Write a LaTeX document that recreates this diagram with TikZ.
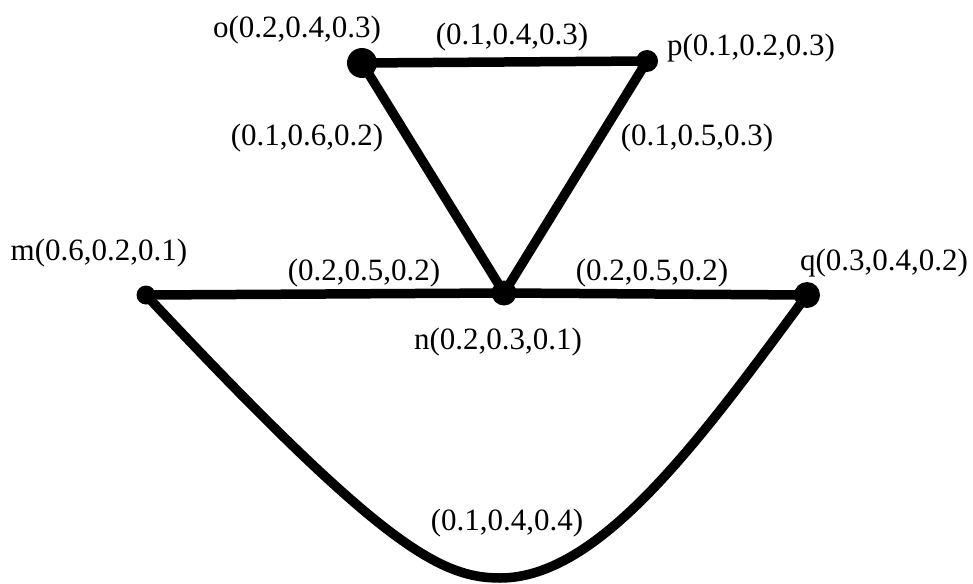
\documentclass[tikz,border=0pt]{standalone}
\usepackage{fontspec}
\setmainfont{Liberation Serif}
\begin{document}
\begin{tikzpicture}[x=1pt,y=-1pt,
  vtx/.style={circle,fill=black,inner sep=0pt,minimum size=#1},
  lbl/.style={inner sep=0pt,font=\fontsize{31}{34}\selectfont},
  edge/.style={line width=9.5pt,line cap=round,line join=round}]
\useasboundingbox (0,0) rectangle (973,583);
% vertices
\node[vtx=30pt] (o) at (362,63) {};
\node[vtx=22pt] (p) at (647,61) {};
\node[vtx=19pt] (m) at (146,295) {};
\node[vtx=25pt] (n) at (504,293) {};
\node[vtx=26pt] (q) at (807,295) {};
% edges
\draw[edge] (o.center) -- (p.center);
\draw[edge] (o.center) -- (n.center);
\draw[edge] (p.center) -- (n.center);
\draw[edge] (m.center) -- (n.center);
\draw[edge] (n.center) -- (q.center);
\coordinate (b) at (500,578);
\draw[edge] (m.center) .. controls (380,545) and (440,578) .. (b)
            .. controls (600,578) and (700,440) .. (q.center);
% vertex labels
\node[lbl] (lo) at (297,30) {o(0.2,0.4,0.3)};
\node[lbl] (lp) at (751,48) {p(0.1,0.2,0.3)};
\node[lbl] (lm) at (99,253) {m(0.6,0.2,0.1)};
\node[lbl] (ln) at (498,342) {n(0.2,0.3,0.1)};
\node[lbl] (lq) at (884,263) {q(0.3,0.4,0.2)};
% edge labels
\node[lbl] (eop) at (512,37) {(0.1,0.4,0.3)};
\node[lbl] (eon) at (307,138) {(0.1,0.6,0.2)};
\node[lbl] (epn) at (697,138) {(0.1,0.5,0.3)};
\node[lbl] (emn) at (364,273) {(0.2,0.5,0.2)};
\node[lbl] (enq) at (652,273) {(0.2,0.5,0.2)};
\node[lbl] (emq) at (507,523) {(0.1,0.4,0.4)};
\end{tikzpicture}
\end{document}
